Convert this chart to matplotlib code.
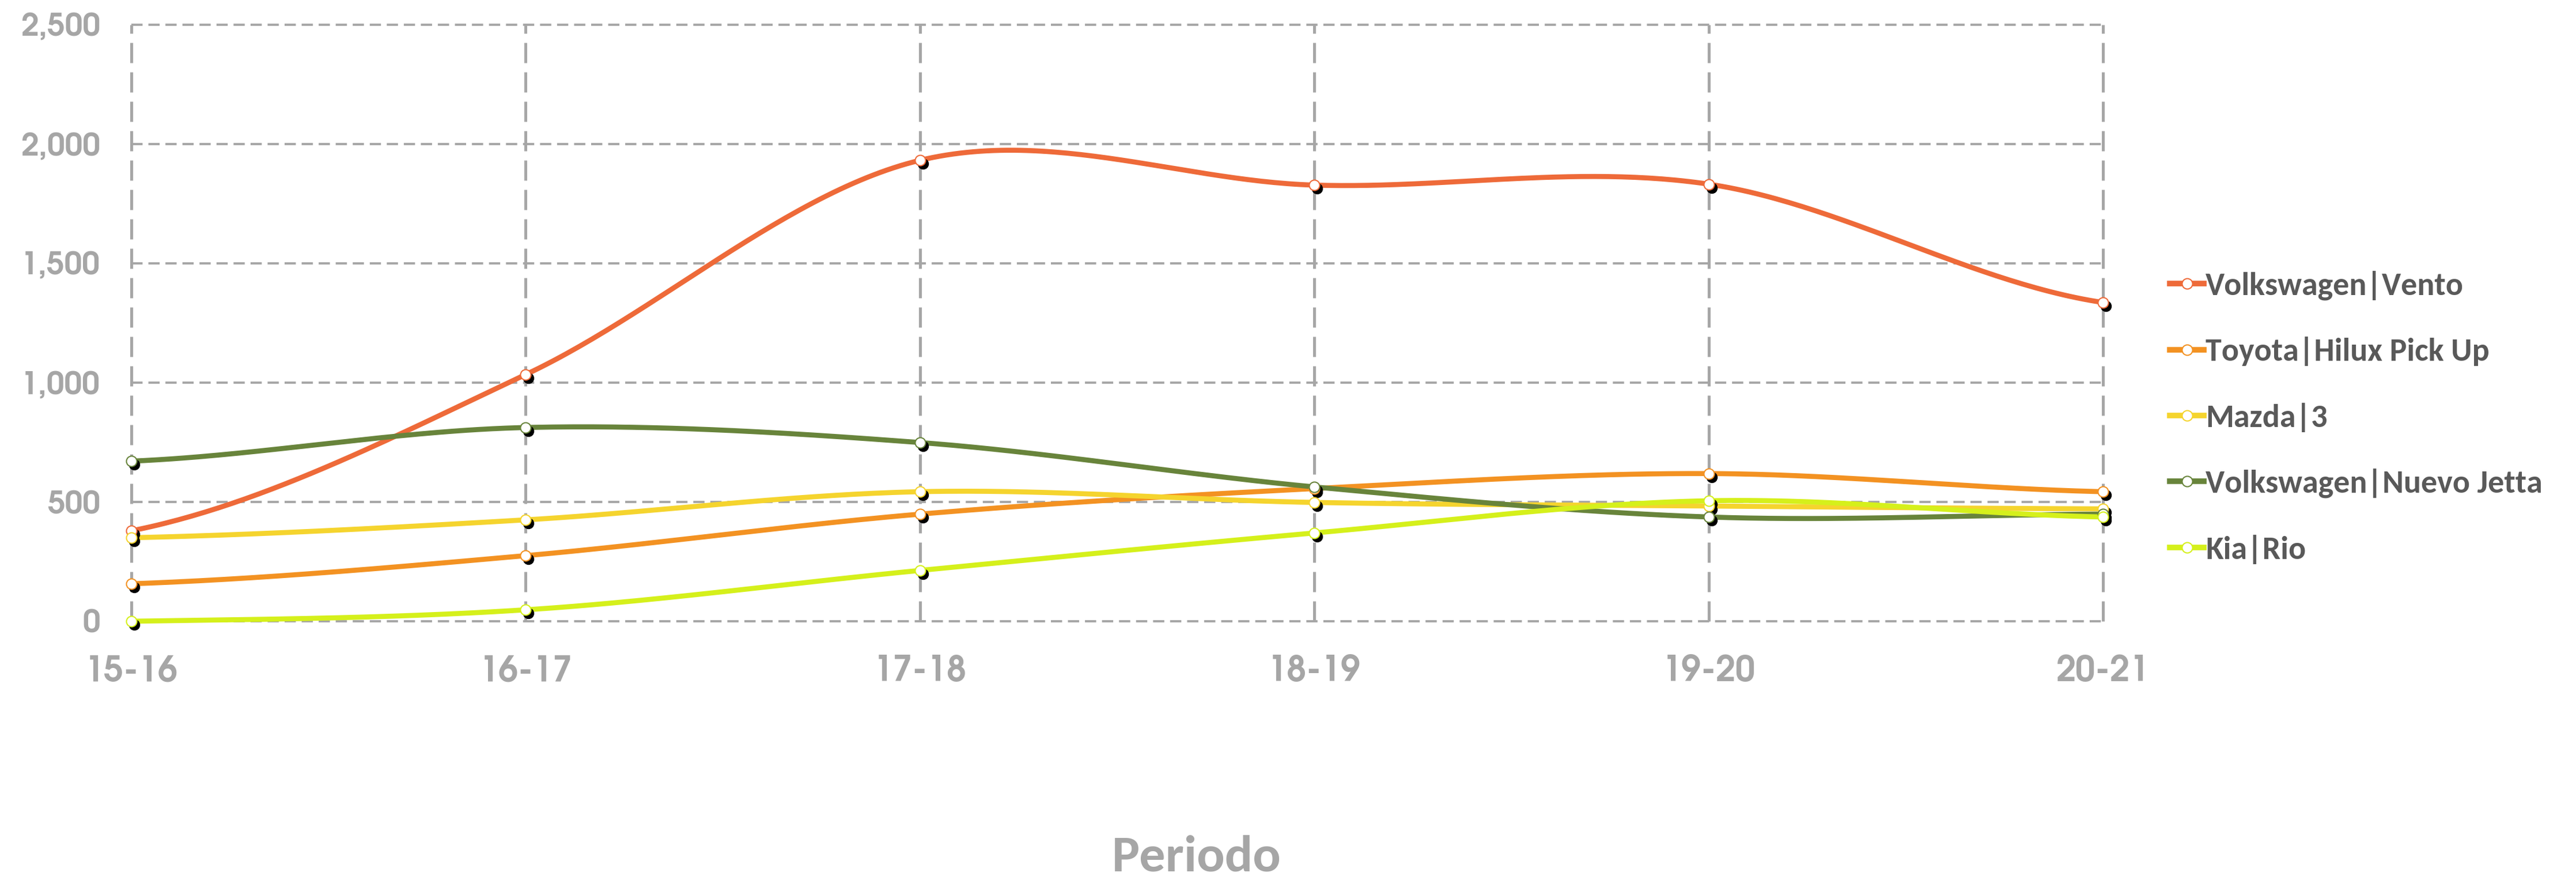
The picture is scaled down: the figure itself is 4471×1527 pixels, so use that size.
import numpy as np
import matplotlib
matplotlib.use("Agg")
import matplotlib.pyplot as plt
from matplotlib.lines import Line2D
import matplotlib.transforms as mtransforms
from matplotlib import font_manager as fm

periods = ["15-16", "16-17", "17-18", "18-19", "19-20", "20-21"]
vento = [379, 1034, 1932, 1828, 1832, 1336]
hilux = [157, 275, 449, 556, 619, 543]
mazda3 = [350, 425, 543, 498, 483, 471]
jetta = [671, 812, 749, 563, 437, 449]
rio = [0, 48, 213, 370, 505, 437]

series_names = ["Volkswagen|Vento", "Toyota|Hilux Pick Up", "Mazda|3",
                "Volkswagen|Nuevo Jetta", "Kia|Rio"]
series_values = [vento, hilux, mazda3, jetta, rio]
colors = ["#EE6A39", "#F39222", "#F5D42E", "#68843B", "#D5F01B"]
yticks = [0, 500, 1000, 1500, 2000, 2500]
ylabels = ["0", "500", "1,000", "1,500", "2,000", "2,500"]
xlabel = "Periodo"

GRAY = "#A6A6A6"
W, H = 4471, 1527

available = {f.name for f in fm.fontManager.ttflist}


def pick(prefs):
    for p in prefs:
        if p in available:
            return p
    return "DejaVu Sans"


TICK_FONT = pick(["Century Gothic", "URW Gothic", "URW Gothic L", "TeX Gyre Adventor",
                  "Questrial", "Didact Gothic", "Jost", "Roboto"])
TEXT_FONT = pick(["Calibri", "Carlito", "Lato"])


def smooth(y, n=60):
    """Catmull-Rom (Excel-style smoothed line) through the points."""
    y = np.asarray(y, float)
    x = np.arange(len(y), dtype=float)
    xs, ys = [], []
    for i in range(len(y) - 1):
        y0 = y[i - 1] if i > 0 else y[i]
        y3 = y[i + 2] if i + 2 < len(y) else y[i + 1]
        m0 = (y[i + 1] - y0) / 2.0
        m1 = (y3 - y[i]) / 2.0
        t = np.linspace(0, 1, n)
        h00 = 2 * t**3 - 3 * t**2 + 1
        h10 = t**3 - 2 * t**2 + t
        h01 = -2 * t**3 + 3 * t**2
        h11 = t**3 - t**2
        xs.append(x[i] + t)
        ys.append(h00 * y[i] + h10 * m0 + h01 * y[i + 1] + h11 * m1)
    return np.concatenate(xs), np.concatenate(ys)


fig = plt.figure(figsize=(W / 100, H / 100), dpi=100)
renderer = fig.canvas.get_renderer()


def size_for(s, family, weight, target_px, base=40.0):
    t = fig.text(0, 0, s, fontsize=base, family=family, weight=weight)
    w = t.get_window_extent(renderer).width
    t.remove()
    return base * target_px / w


ysize = size_for("2,500", TICK_FONT, "bold", 138)
xsize = size_for("15-16", TICK_FONT, "bold", 162)
lsize = size_for("Volkswagen|Vento", TEXT_FONT, "bold", 447)
tsize = size_for(xlabel, TEXT_FONT, "bold", 293)

ax = fig.add_axes([228 / W, 1 - 1078 / H, (3650 - 228) / W, (1078 - 43) / H])
ax.set_xlim(0, len(periods) - 1)
ax.set_ylim(0, 2500)
for s in ax.spines.values():
    s.set_visible(False)

# grid
for yv in yticks:
    ax.axhline(yv, color=GRAY, lw=2.8, dashes=(5, 2.6), zorder=1, clip_on=False)
for xi in range(len(periods)):
    ax.axvline(xi, color=GRAY, lw=3.6, dashes=(7, 3.2), zorder=1, clip_on=False)

x = np.arange(len(periods))
shadow_tr = ax.transData + mtransforms.ScaledTranslation(5 / 100, -6 / 100, fig.dpi_scale_trans)

for vals, c in zip(series_values, colors):
    xs, ys = smooth(vals)
    ax.plot(xs, ys, color=c, lw=6.3, zorder=2, clip_on=False, solid_capstyle="round")
for vals, c in zip(series_values, colors):
    ax.plot(x, vals, ls="none", marker="o", ms=13, mfc="black", mec="black",
            transform=shadow_tr, zorder=3, clip_on=False)
    ax.plot(x, vals, ls="none", marker="o", ms=13, mfc="white", mec=c, mew=1.5,
            zorder=4, clip_on=False)

ax.set_yticks(yticks)
ax.set_yticklabels(ylabels)
ax.set_xticks(x)
ax.set_xticklabels(periods)
ax.tick_params(axis="both", length=0, colors=GRAY)
for lab in ax.get_yticklabels():
    lab.set_fontsize(ysize)
    lab.set_fontweight("bold")
    lab.set_family(TICK_FONT)
for lab in ax.get_xticklabels():
    lab.set_fontsize(xsize)
    lab.set_fontweight("bold")
    lab.set_family(TICK_FONT)
ax.tick_params(axis="y", pad=39)
ax.tick_params(axis="x", pad=42)

fig.text(2077 / W, 1 - 1512 / H, xlabel, ha="center", va="baseline",
         fontsize=tsize, fontweight="bold", color=GRAY, family=TEXT_FONT)

fs_px = lsize * 100 / 72


def make_legend(spacing):
    handles = [Line2D([0], [0], color=c, lw=7, marker="o", ms=13, mfc="white", mec=c, mew=1.5)
               for c in colors]
    lg = fig.legend(handles, series_names, loc="center left",
                    bbox_to_anchor=(3766 / W, 1 - 724 / H), frameon=False,
                    handlelength=59 / fs_px, handletextpad=3 / fs_px, labelspacing=spacing,
                    borderaxespad=0, borderpad=0,
                    prop={"family": TEXT_FONT, "weight": "bold", "size": lsize})
    for t in lg.get_texts():
        t.set_color("#595959")
    return lg


ls0 = 0.8
leg = make_legend(ls0)
fig.canvas.draw()
texts = leg.get_texts()
b0 = texts[0].get_window_extent(renderer)
b4 = texts[-1].get_window_extent(renderer)
actual = ((b0.y0 + b0.y1) - (b4.y0 + b4.y1)) / 2 / 4
leg.remove()
leg = make_legend(ls0 + (114.5 - actual) / fs_px)

fig.savefig("out.png", dpi=100, facecolor="white")
